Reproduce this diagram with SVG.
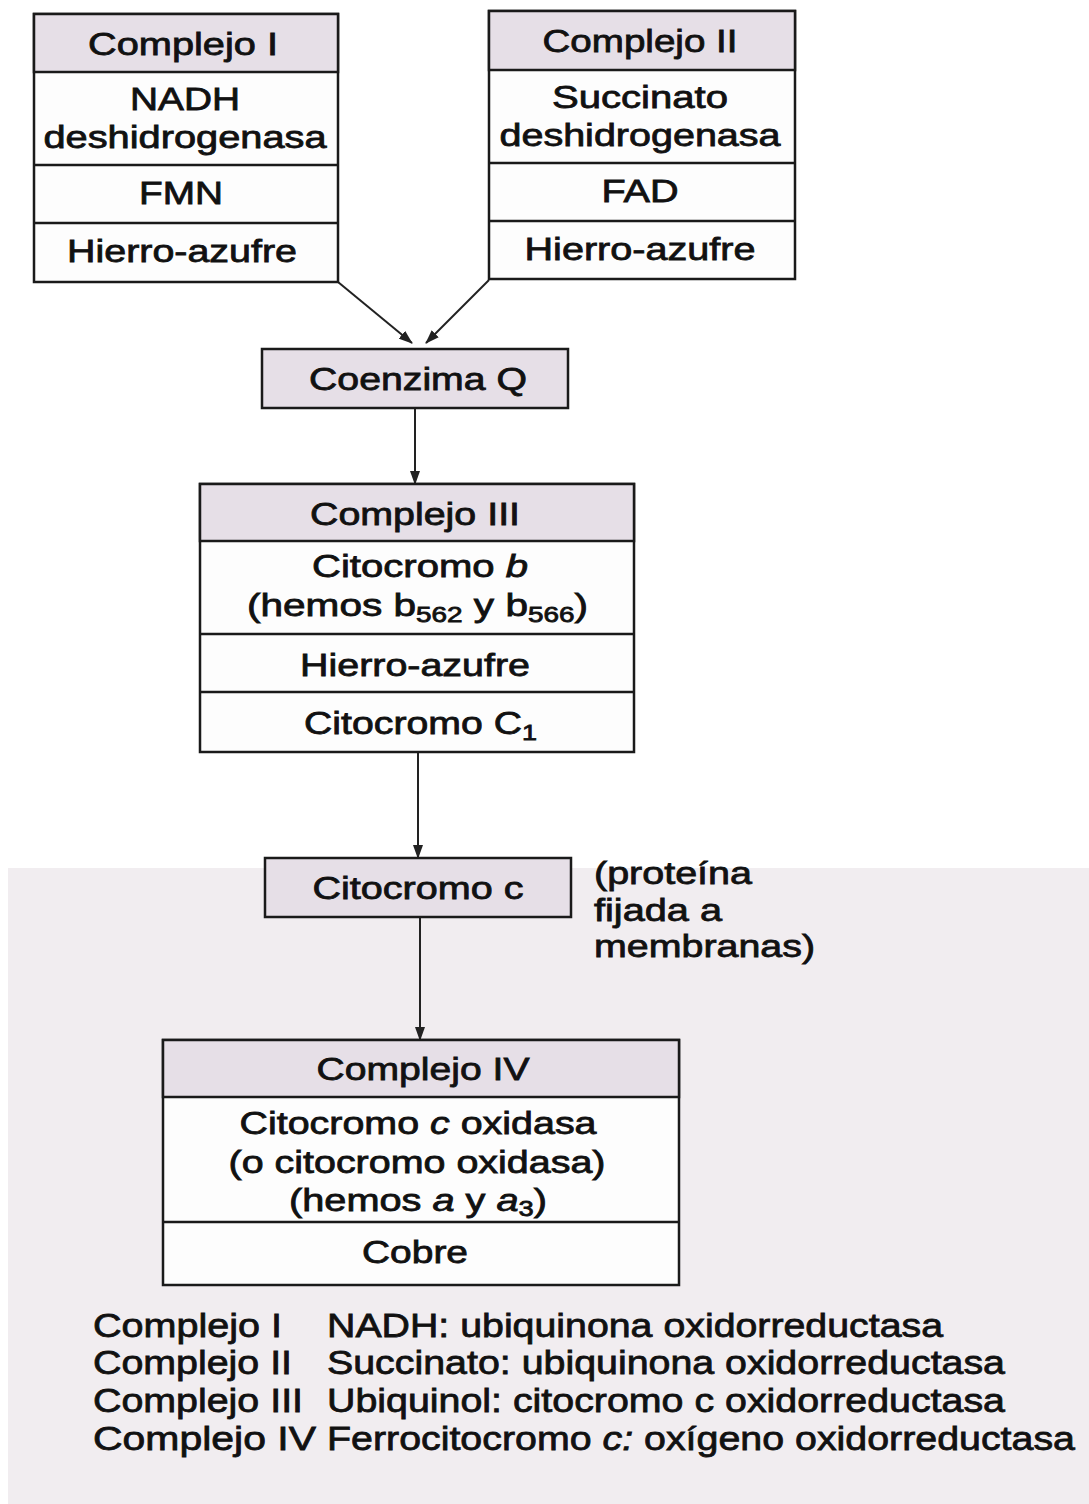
<svg xmlns="http://www.w3.org/2000/svg" width="1089" height="1504" viewBox="0 0 1089 1504">
<style>
.box{fill:#fdfdfd;stroke:#1a1a1a;stroke-width:2.5}
.hdr{fill:#e6dfe7;stroke:#1a1a1a;stroke-width:2.5}
.div{stroke:#1a1a1a;stroke-width:2.5}
text{font-family:"Liberation Sans",Arial,sans-serif;font-size:32px;fill:#111;stroke:#111;stroke-width:0.8}
.c{text-anchor:middle}
.con{stroke:#222;stroke-width:2;fill:none;marker-end:url(#ah)}
.leg{font-size:34px}
</style>
<defs>
<marker id="ah" viewBox="0 0 14 10" refX="13" refY="5" markerWidth="14" markerHeight="10" orient="auto" markerUnits="userSpaceOnUse">
<path d="M0,0 L14,5 L0,10 z" fill="#222"/>
</marker>
</defs>
<rect x="0" y="0" width="1089" height="1504" fill="#ffffff"/>
<rect x="8" y="868" width="1081" height="636" fill="#f1edf0"/>

<g id="connectors">
<line class="con" x1="338" y1="282" x2="412" y2="343"/>
<line class="con" x1="489" y1="280" x2="426" y2="343"/>
<line class="con" x1="415" y1="408" x2="415" y2="484"/>
<line class="con" x1="418" y1="752" x2="418" y2="858"/>
<line class="con" x1="420" y1="917" x2="420" y2="1040"/>
</g>

<g id="complejo1">
<rect class="box" x="34" y="14" width="304" height="268"/>
<rect class="hdr" x="34" y="14" width="304" height="58"/>
<line class="div" x1="34" y1="165" x2="338" y2="165"/>
<line class="div" x1="34" y1="223" x2="338" y2="223"/>
<text class="c" x="183" y="55" textLength="190" lengthAdjust="spacingAndGlyphs">Complejo I</text>
<text class="c" x="185" y="110" textLength="110" lengthAdjust="spacingAndGlyphs">NADH</text>
<text class="c" x="185" y="148" textLength="283" lengthAdjust="spacingAndGlyphs">deshidrogenasa</text>
<text class="c" x="181" y="204" textLength="84" lengthAdjust="spacingAndGlyphs">FMN</text>
<text class="c" x="182" y="262" textLength="230" lengthAdjust="spacingAndGlyphs">Hierro-azufre</text>
</g>

<g id="complejo2">
<rect class="box" x="489" y="11" width="306" height="268"/>
<rect class="hdr" x="489" y="11" width="306" height="59"/>
<line class="div" x1="489" y1="163" x2="795" y2="163"/>
<line class="div" x1="489" y1="221" x2="795" y2="221"/>
<text class="c" x="640" y="52" textLength="195" lengthAdjust="spacingAndGlyphs">Complejo II</text>
<text class="c" x="640" y="108" textLength="176" lengthAdjust="spacingAndGlyphs">Succinato</text>
<text class="c" x="640" y="146" textLength="281" lengthAdjust="spacingAndGlyphs">deshidrogenasa</text>
<text class="c" x="640" y="202" textLength="77" lengthAdjust="spacingAndGlyphs">FAD</text>
<text class="c" x="640" y="260" textLength="231" lengthAdjust="spacingAndGlyphs">Hierro-azufre</text>
</g>

<g id="coenzimaQ">
<rect class="hdr" x="262" y="349" width="306" height="59"/>
<text class="c" x="418" y="390" textLength="218" lengthAdjust="spacingAndGlyphs">Coenzima Q</text>
</g>

<g id="complejo3">
<rect class="box" x="200" y="484" width="434" height="268"/>
<rect class="hdr" x="200" y="484" width="434" height="57"/>
<line class="div" x1="200" y1="634" x2="634" y2="634"/>
<line class="div" x1="200" y1="692" x2="634" y2="692"/>
<text class="c" x="415" y="525" textLength="210" lengthAdjust="spacingAndGlyphs">Complejo III</text>
<text class="c" x="420" y="577" textLength="216" lengthAdjust="spacingAndGlyphs">Citocromo <tspan font-style="italic">b</tspan></text>
<text x="247" y="616" textLength="341" lengthAdjust="spacingAndGlyphs">(hemos b<tspan font-size="22" dy="6">562</tspan><tspan dy="-6"> y b</tspan><tspan font-size="22" dy="6">566</tspan><tspan dy="-6">)</tspan></text>
<text class="c" x="415" y="676" textLength="230" lengthAdjust="spacingAndGlyphs">Hierro-azufre</text>
<text x="304" y="734" textLength="233" lengthAdjust="spacingAndGlyphs">Citocromo C<tspan font-size="22" dy="6">1</tspan></text>
</g>

<g id="citocromoC">
<rect class="hdr" x="265" y="858" width="306" height="59"/>
<text class="c" x="418" y="899" textLength="211" lengthAdjust="spacingAndGlyphs">Citocromo c</text>
</g>

<g id="nota">
<text x="594" y="884" textLength="158" lengthAdjust="spacingAndGlyphs">(proteína</text>
<text x="594" y="921" textLength="128" lengthAdjust="spacingAndGlyphs">fijada a</text>
<text x="594" y="957" textLength="221" lengthAdjust="spacingAndGlyphs">membranas)</text>
</g>

<g id="complejo4">
<rect class="box" x="163" y="1040" width="516" height="245"/>
<rect class="hdr" x="163" y="1040" width="516" height="57"/>
<line class="div" x1="163" y1="1222" x2="679" y2="1222"/>
<text class="c" x="423" y="1080" textLength="213" lengthAdjust="spacingAndGlyphs">Complejo IV</text>
<text class="c" x="418" y="1134" textLength="357" lengthAdjust="spacingAndGlyphs">Citocromo <tspan font-style="italic">c</tspan> oxidasa</text>
<text class="c" x="417" y="1173" textLength="377" lengthAdjust="spacingAndGlyphs">(o citocromo oxidasa)</text>
<text x="289" y="1211" textLength="258" lengthAdjust="spacingAndGlyphs">(hemos <tspan font-style="italic">a</tspan> y <tspan font-style="italic">a</tspan><tspan font-size="22" dy="5">3</tspan><tspan dy="-5">)</tspan></text>
<text class="c" x="415" y="1263" textLength="106" lengthAdjust="spacingAndGlyphs">Cobre</text>
</g>

<g id="leyenda">
<text class="leg" x="93" y="1337" textLength="189" lengthAdjust="spacingAndGlyphs">Complejo I</text>
<text class="leg" x="93" y="1374" textLength="199" lengthAdjust="spacingAndGlyphs">Complejo II</text>
<text class="leg" x="93" y="1412" textLength="210" lengthAdjust="spacingAndGlyphs">Complejo III</text>
<text class="leg" x="93" y="1450" textLength="223" lengthAdjust="spacingAndGlyphs">Complejo IV</text>
<text class="leg" x="327" y="1337" textLength="616" lengthAdjust="spacingAndGlyphs">NADH: ubiquinona oxidorreductasa</text>
<text class="leg" x="327" y="1374" textLength="678" lengthAdjust="spacingAndGlyphs">Succinato: ubiquinona oxidorreductasa</text>
<text class="leg" x="327" y="1412" textLength="678" lengthAdjust="spacingAndGlyphs">Ubiquinol: citocromo c oxidorreductasa</text>
<text class="leg" x="327" y="1450" textLength="748" lengthAdjust="spacingAndGlyphs">Ferrocitocromo <tspan font-style="italic">c:</tspan> oxígeno oxidorreductasa</text>
</g>
</svg>
